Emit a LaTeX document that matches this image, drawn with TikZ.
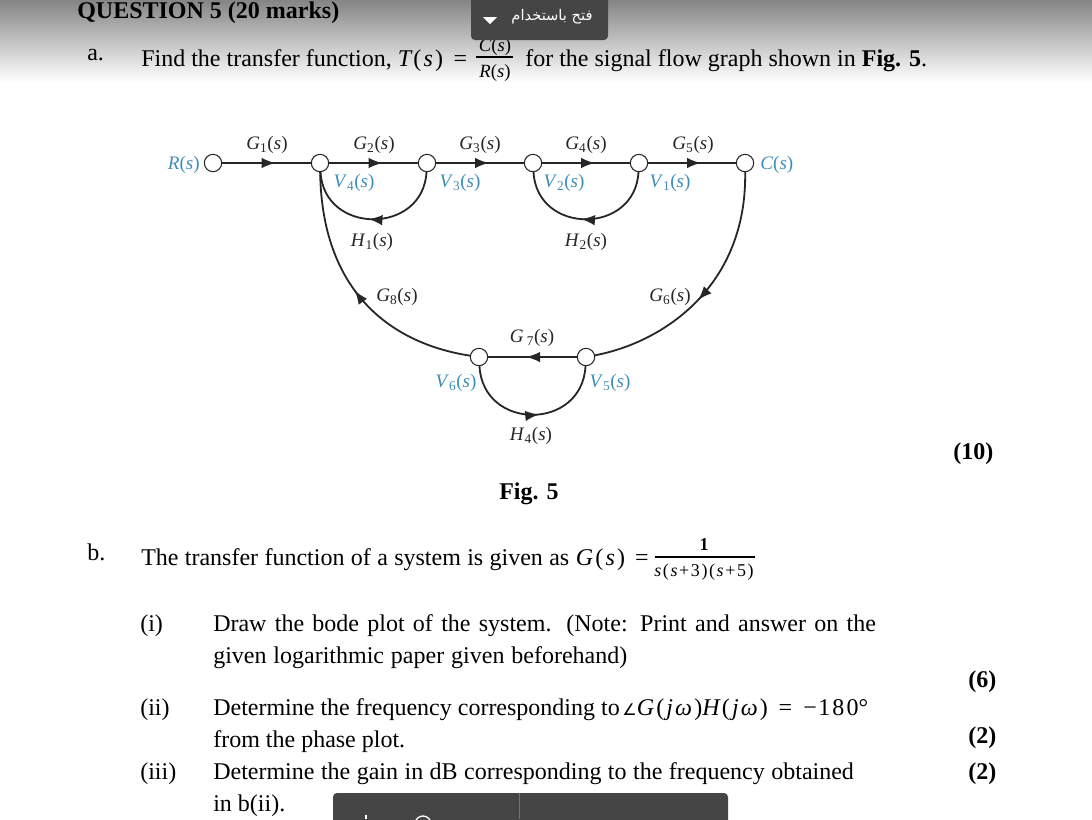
\documentclass[tikz,border=0pt]{standalone}
\usepackage{fontspec}
\setmainfont{Liberation Serif}
\newfontfamily\arabicfont[Script=Arabic]{DejaVu Sans}
\newfontfamily\symfont{DejaVu Sans}
\newfontfamily\mathfont{Liberation Serif Italic}
\newfontfamily\mathup[LetterSpace=9]{Liberation Serif}
\TeXXeTstate=1
\usetikzlibrary{positioning}
\usetikzlibrary{arrows.meta}
\usetikzlibrary{decorations.markings}
\definecolor{labelblue}{HTML}{3F8DB8}
\definecolor{panelgray}{HTML}{454545}
\newcommand{\gfn}[2]{\textit{#1}\textsubscript{#2}(\textit{s})}
\newcommand{\mgap}{\kern.09em}
\newcommand{\ffn}[1]{{\mathfont #1}({\mathfont s})}
\newcommand{\mfn}[1]{{\mathfont #1}\mgap(\mgap{\mathfont s}\mgap)}
\newcommand{\jfn}[1]{{\mathfont #1}\mgap(\mgap{\mathfont j}\mgap{\mathfont ω}\mgap)}
\tikzset{
    sfgnode/.style = {circle, thick, draw=black!85, fill=white, inner sep=0pt, minimum size=13pt},
    edgen/.style = {line width=1.35pt, draw=black!85, postaction={decorate},
      decoration={markings, mark=at position #1 with {\arrow[scale=1.5]{latex}}}},
    edgen/.default = 0.6,
    lblk/.style = {font=\fontsize{14.3}{16}\selectfont, text=black!85, inner sep=0pt},
    lblb/.style = {font=\fontsize{14.3}{16}\selectfont, text=labelblue, inner sep=0pt},
    txt/.style = {anchor=base west, inner sep=0pt, font=\fontsize{18}{20}\selectfont},
    txtb/.style = {anchor=base west, inner sep=0pt, font=\fontsize{18}{20}\selectfont\bfseries},
    fracs/.style = {inner sep=0pt, font=\fontsize{14}{16}\selectfont},
    fracd/.style = {inner sep=0pt, font=\fontsize{13.5}{15}\selectfont},
    barline/.style = {line width=1pt, black},
    panel/.style = {fill=panelgray, rounded corners=3pt}
}
\begin{document}
\begin{tikzpicture}[x=0.75pt,y=-0.75pt]
  \useasboundingbox (0,0) rectangle (1092,819);
  \clip (0,0) rectangle (1092,819);
  \fill[white] (0,0) rectangle (1092,819);
  \shade[top color=black!48, bottom color=white] (0,0) rectangle (1092,82);

  % top text
  \node[txtb] (qtitle) at (77,18) {QUESTION 5 (20 marks)};
  \node[txt] (parta) at (87,60) {a.};
  \node[txt] (finda) at (141,66) {Find the transfer function, \mfn{T}\hspace{8pt}=};
  \node[fracs] (fracc) at (495,47) {\ffn{C}};
  \node[fracs] (fracr) at (495,73) {\ffn{R}};
  \coordinate (bara) at (476,57);
  \coordinate (barb) at (513,57);
  \draw[barline] (bara) -- (barb);
  \node[txt] (findb) at (525,66) {for the signal flow graph shown in \textbf{Fig. 5}.};

  % top panel
  \fill[panel] (471,-6) rectangle (608,40);
  \node[inner sep=0pt, text=white, font=\fontsize{11}{13}\selectfont] (opena) at (552,17) {\arabicfont\beginR فتح باستخدام\endR};
  \fill[white] (483,17) -- (497,17) -- (490,24) -- cycle;

  % graph
  \node[sfgnode] (r) at (213,163) {};
  \node[sfgnode] (v4) at (320,163) {};
  \node[sfgnode] (v3) at (427,163) {};
  \node[sfgnode] (v2) at (533,163) {};
  \node[sfgnode] (v1) at (639,163) {};
  \node[sfgnode] (c) at (745,163) {};
  \node[sfgnode] (v6) at (479,357) {};
  \node[sfgnode] (v5) at (586,357) {};

  \draw[edgen] (r) -- (v4);
  \draw[edgen] (v4) -- (v3);
  \draw[edgen] (v3) -- (v2);
  \draw[edgen] (v2) -- (v1);
  \draw[edgen] (v1) -- (c);
  \draw[edgen=0.57] (v5) -- (v6);
  \draw[edgen=0.53] (v3) .. controls +(-4,72) and +(4,72) .. (v4);
  \draw[edgen=0.53] (v1) .. controls +(-4,72) and +(4,72) .. (v2);
  \draw[edgen=0.54] (v6) .. controls +(4,74) and +(-4,74) .. (v5);
  \draw[edgen=0.52] (v6) .. controls (400,345) and (322,300) .. (v4);
  \draw[edgen=0.54] (c) .. controls (747,285) and (665,342) .. (v5);

  \node[lblb, anchor=east] (lr) at (200,165) {\textit{R}(\textit{s})};
  \node[lblb, anchor=west] (lc) at (760,165) {\textit{C}(\textit{s})};
  \node[lblk] (g1) at (267,145) {\gfn{G}{1}};
  \node[lblk] (g2) at (374,145) {\gfn{G}{2}};
  \node[lblk] (g3) at (480,145) {\gfn{G}{3}};
  \node[lblk] (g4) at (586,145) {\gfn{G}{4}};
  \node[lblk] (g5) at (693,145) {\gfn{G}{5}};
  \node[lblb] (l4) at (354,183) {\gfn{V}{4}};
  \node[lblb] (l3) at (460,183) {\gfn{V}{3}};
  \node[lblb] (l2) at (564,183) {\gfn{V}{2}};
  \node[lblb] (l1) at (670,183) {\gfn{V}{1}};
  \node[lblk] (h1) at (372,242) {\gfn{H}{1}};
  \node[lblk] (h2) at (586,242) {\gfn{H}{2}};
  \node[lblk] (g8) at (397,297) {\gfn{G}{8}};
  \node[lblk] (g6) at (670,297) {\gfn{G}{6}};
  \node[lblk] (g7) at (532,338) {\textit{G}\,\textsubscript{7}(\textit{s})};
  \node[lblb] (l6) at (456,383) {\gfn{V}{6}};
  \node[lblb] (l5) at (610,383) {\gfn{V}{5}};
  \node[lblk] (h4) at (531,436) {\gfn{H}{4}};

  \node[txtb] (mk10) at (953,459) {(10)};
  \node[txtb] (figc) at (499,499) {Fig. 5};

  % part b
  \node[txt] (partb) at (87,560) {b.};
  \node[txt] (tfa) at (141,565) {\makebox[321pt][s]{The transfer function of a system is given as}\hspace{5pt}\mfn{G}\hspace{7.5pt}=};
  \node[fracd] (fracone) at (704,545) {\textbf{1}};
  \node[fracd] (fracden) at (704,572) {{\mathfont s}\mgap(\mgap{\mathfont s}\mgap+\mgap 3\mgap)\mgap(\mgap{\mathfont s}\mgap+\mgap 5\mgap)};
  \coordinate (barc) at (655,557);
  \coordinate (bard) at (755,557);
  \draw[barline] (barc) -- (bard);

  \node[txt] (bi) at (140,631) {(i)};
  \node[txt] (bia) at (213,631) {\makebox[497pt][s]{Draw the bode plot of the system. (Note: Print and answer on the}};
  \node[txt] (bib) at (213,663) {\makebox[310.5pt][s]{given logarithmic paper given beforehand)}};
  \node[txtb] (mk6) at (968,687) {(6)};
  \node[txt] (bii) at (140,715) {(ii)};
  \node[txt] (biia) at (213,715) {Determine the frequency corresponding to\hspace{2pt}{\symfont\fontsize{12}{14}\selectfont∠}\jfn{G}\jfn{H}\hspace{8pt}=\hspace{8.5pt}{\mathup −\kern1pt 180}°};
  \node[txt] (biib) at (213,747) {from the phase plot.};
  \node[txtb] (mk2a) at (968,743) {(2)};
  \node[txt] (biii) at (140,779) {(iii)};
  \node[txt] (biiia) at (213,779) {\makebox[480.5pt][s]{Determine the gain in dB corresponding to the frequency obtained}};
  \node[txtb] (mk2b) at (968,779) {(2)};
  \node[txt] (biiib) at (213,811) {in b(ii).};

  % bottom panel
  \fill[panel] (333,793) rectangle (728,830);
  \draw[black!55, line width=0.6pt] (519,793) -- (519,819);
  \draw[white, line width=1pt] (366,815) -- (366,819);
  \draw[white, line width=1pt] (423,824) circle (8);
\end{tikzpicture}
\end{document}
